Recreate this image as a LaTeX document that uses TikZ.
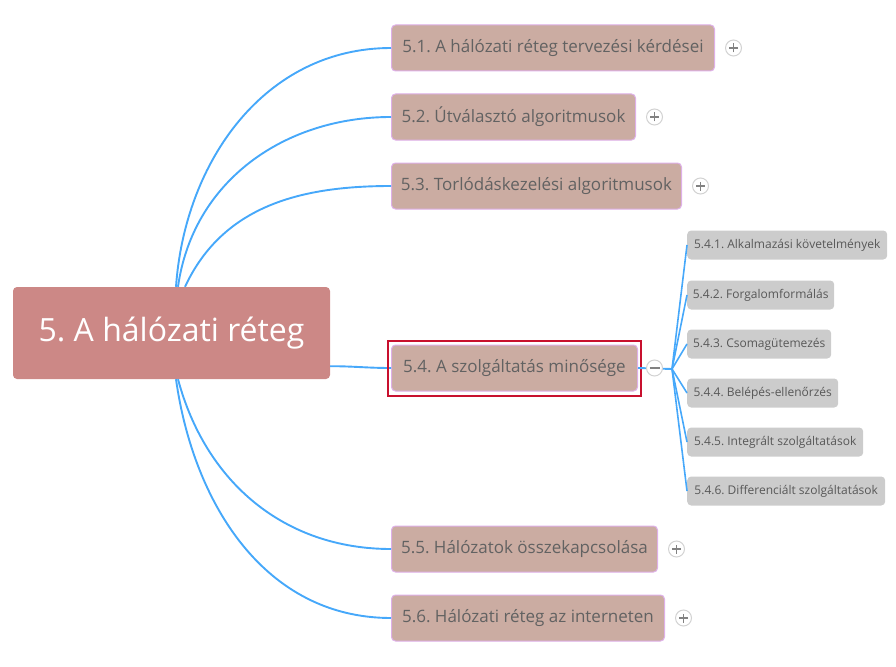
\documentclass[tikz,border=0pt]{standalone}
\usepackage{fontspec}
\setmainfont{Open Sans}
\frenchspacing
\usetikzlibrary{positioning,calc}
\definecolor{rootfill}{RGB}{204,136,134}
\definecolor{topicfill}{RGB}{203,172,162}
\definecolor{topicline}{RGB}{222,176,232}
\definecolor{topictext}{RGB}{98,98,98}
\definecolor{subfill}{RGB}{204,204,204}
\definecolor{subtext}{RGB}{88,88,88}
\definecolor{branch}{RGB}{70,168,250}
\definecolor{selred}{RGB}{200,16,46}
\definecolor{btnline}{RGB}{210,210,210}
\definecolor{btnsign}{RGB}{130,130,130}
\tikzset{
	root/.style={fill=rootfill, rounded corners=4pt, minimum width=317pt, minimum height=92pt,
		text=white, font=\fontsize{32}{38}\selectfont},
	topic/.style={fill=topicfill, draw=topicline, line width=1pt, rounded corners=4pt,
		minimum height=46pt, anchor=west, text=topictext, font=\fontsize{17}{20}\selectfont},
	subtopic/.style={fill=subfill, rounded corners=4pt, minimum height=29pt, anchor=west,
		text=subtext, font=\fontsize{12}{14}\selectfont},
	link/.style={draw=branch, line width=1.9pt},
	btn/.style={circle, draw=btnline, fill=white, line width=1pt, minimum size=16pt, inner sep=0pt},
	plusbtn/.style={btn, path picture={
		\draw[btnsign, line width=1.2pt] ($(path picture bounding box.center)+(-4.5,0)$) -- +(9,0);
		\draw[btnsign, line width=1.2pt] ($(path picture bounding box.center)+(0,-4.5)$) -- +(0,9);}},
	minusbtn/.style={btn, path picture={
		\draw[btnsign, line width=1.5pt] ($(path picture bounding box.center)+(-5,0)$) -- +(10,0);}},
}
\begin{document}
\begin{tikzpicture}[x=1pt,y=1pt]
	\useasboundingbox (0,0) rectangle (896,-666);
	% central topic
	\node[root] (root) at (171.5,-333) {5. A hálózati réteg};
	% main topics
	\node[topic, minimum width=323pt] (b1) at (391,-48) {5.1. A hálózati réteg tervezési kérdései};
	\node[topic, minimum width=244pt] (b2) at (391,-117) {5.2. Útválasztó algoritmusok};
	\node[topic, minimum width=290pt] (b3) at (391,-186) {5.3. Torlódáskezelési algoritmusok};
	\node[topic, minimum width=246pt] (b4) at (391,-368) {5.4. A szolgáltatás minősége};
	\node[topic, minimum width=266pt] (b5) at (391,-549) {5.5. Hálózatok összekapcsolása};
	\node[topic, minimum width=273pt] (b6) at (391,-618) {5.6. Hálózati réteg az interneten};
	% collapse buttons
	\node[plusbtn, right=10pt of b1] (p1) {};
	\node[plusbtn, right=10pt of b2] (p2) {};
	\node[plusbtn, right=10pt of b3] (p3) {};
	\node[plusbtn, right=10pt of b5] (p5) {};
	\node[plusbtn, right=10pt of b6] (p6) {};
	% subtopics of 5.4
	\node[subtopic, minimum width=200pt] (s1) at (687,-245) {5.4.1. Alkalmazási követelmények};
	\node[subtopic, minimum width=147pt] (s2) at (687,-295) {5.4.2. Forgalomformálás};
	\node[subtopic, minimum width=144pt] (s3) at (687,-344) {5.4.3. Csomagütemezés};
	\node[subtopic, minimum width=151pt] (s4) at (687,-393) {5.4.4. Belépés-ellenőrzés};
	\node[subtopic, minimum width=176pt] (s5) at (687,-442) {5.4.5. Integrált szolgáltatások};
	\node[subtopic, minimum width=198pt] (s6) at (687,-491) {5.4.6. Differenciált szolgáltatások};
	% connectors from the centre
	\draw[link] ($(root.north)+(4.5,0)$) to[out=86,in=180] (b1.west);
	\draw[link] ($(root.north)+(6.5,0)$) to[out=82,in=180] (b2.west);
	\draw[link] ($(root.north)+(13.5,0)$) to[out=65,in=180] (b3.west);
	\draw[link] ($(root.south east)+(0,13)$) to[out=0,in=180] (b4.west);
	\draw[link] ($(root.south)+(6.5,0)$) to[out=-75,in=180] (b5.west);
	\draw[link] ($(root.south)+(4.5,0)$) to[out=-82,in=180] (b6.west);
	% selection frame
	\draw[selred, line width=2pt] ($(b4.north west)+(-3,4)$) rectangle ($(b4.south east)+(3,-4)$);
	% fork of 5.4
	\coordinate (fork) at (672,-369);
	\draw[link] (b4.east) -- (fork);
	\node[minusbtn, right=8pt of b4] (m4) {};
	\foreach \s in {s1,s2,s3,s4,s5,s6}
		\draw[link, line width=1.6pt] (fork) -- (\s.west);
\end{tikzpicture}
\end{document}
